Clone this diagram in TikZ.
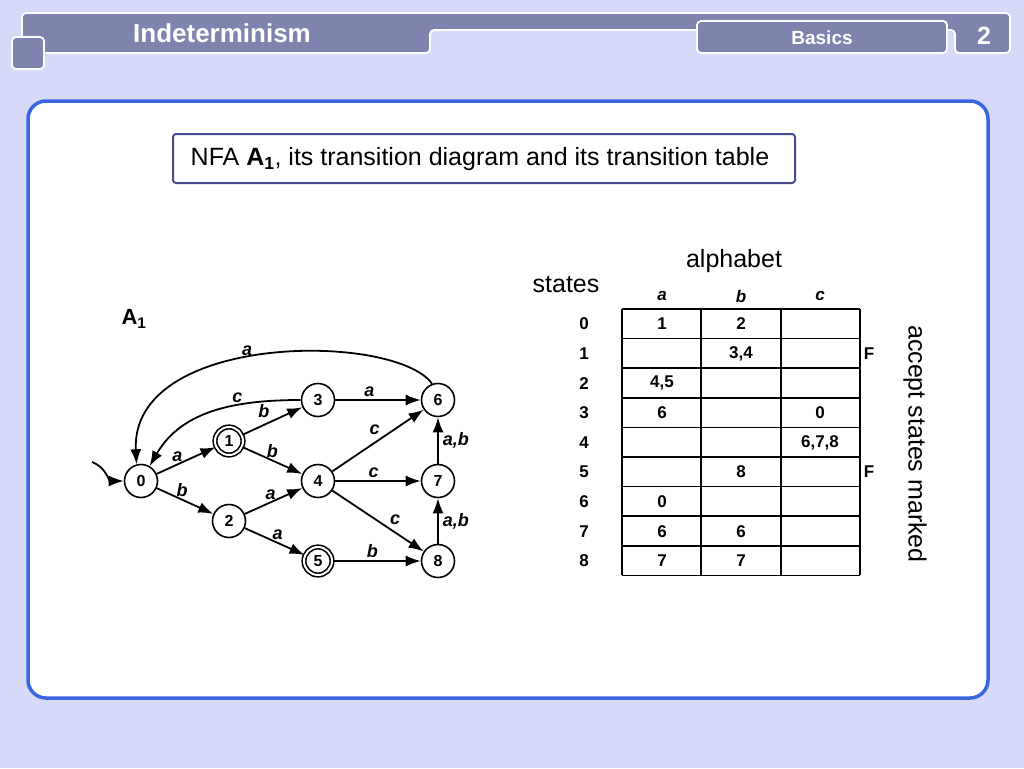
\documentclass[tikz,border=0pt]{standalone}
\usepackage{fontspec}
\setmainfont{Liberation Sans}
\usetikzlibrary{arrows.meta}
\definecolor{bgblue}{HTML}{D6D9F8}
\definecolor{barblue}{HTML}{7F84AE}
\definecolor{panelblue}{HTML}{3A66E0}
\definecolor{capblue}{HTML}{4A4A90}
\tikzset{
  state/.style={circle, draw, line width=1.6pt, minimum size=33pt, inner sep=0pt, font=\bfseries\fontsize{16}{16}\selectfont},
  accept/.style={state, double, double distance=2pt, minimum size=28pt},
  trans/.style={line width=1.8pt, -{Latex[length=15pt,width=11pt]}},
  lab/.style={font=\bfseries\itshape\fontsize{18}{18}\selectfont, inner sep=2pt},
  cell/.style={font=\bfseries\fontsize{17}{17}\selectfont},
  bar/.style={fill=barblue, draw=white, line width=1.8pt, rounded corners=4pt}
}
\begin{document}
\begin{tikzpicture}[x=1pt, y=-1pt]
	\useasboundingbox (0,0) rectangle (1024,768);
	\fill[bgblue] (0,0) rectangle (1024,768);
	% header
	\draw[bar] (22,13) -- (1010,13) -- (1010,53) -- (955,53) -- (955,30) -- (430,30) -- (430,53) -- (22,53) -- cycle;
	\draw[bar] (12,37) rectangle (44,69);
	\draw[bar] (697,21) rectangle (947,53);
	\node[text=white, font=\bfseries\fontsize{26}{26}\selectfont] (title) at (222,33) {Indeterminism};
	\node[text=white, font=\bfseries\fontsize{19}{19}\selectfont] (sect) at (822,38) {Basics};
	\node[text=white, font=\bfseries\fontsize{25}{25}\selectfont] (page) at (984,36) {2};
	% panel
	\draw[panelblue, fill=white, line width=3.5pt, rounded corners=18pt] (28,101) rectangle (988,698);
	\draw[capblue, fill=white, line width=2pt, rounded corners=3pt] (173,134) rectangle (795,183);
	\node[font=\fontsize{25}{25}\selectfont] (cap) at (480,159) {NFA \textbf{A}$_{\mathbf 1}$, its transition diagram and its transition table};
	% automaton
	\node[font=\bfseries\fontsize{22}{22}\selectfont] (name) at (134,319) {A$_{\mathbf 1}$};
	\node[state] (q0) at (141,481) {0};
	\node[accept] (q1) at (229,441) {1};
	\node[state] (q2) at (229,521) {2};
	\node[state] (q3) at (318,400) {3};
	\node[state] (q4) at (318,481) {4};
	\node[accept] (q5) at (318,561) {5};
	\node[state] (q6) at (438,400) {6};
	\node[state] (q7) at (438,481) {7};
	\node[state] (q8) at (438,561) {8};
	\coordinate (start) at (92,462);
	\draw[trans] (start) to[out=-20, in=180] (q0);
	\draw[trans] (q0) -- node[lab, pos=0.35, above] {a} (q1);
	\draw[trans] (q0) -- node[lab, pos=0.45, above] {b} (q2);
	\draw[trans] (q1) -- node[lab, pos=0.5, above left] {b} (q3);
	\draw[trans] (q1) -- node[lab, pos=0.5, above] {b} (q4);
	\draw[trans] (q2) -- node[lab, pos=0.45, above] {a} (q4);
	\draw[trans] (q2) -- node[lab, pos=0.55, above] {a} (q5);
	\draw[trans] (q3) -- node[lab, pos=0.4, above] {a} (q6);
	\draw[trans] (q4) -- node[lab, pos=0.55, above left] {c} (q6);
	\draw[trans] (q4) -- node[lab, pos=0.45, above] {c} (q7);
	\draw[trans] (q4) -- node[lab, pos=0.6, above right] {c} (q8);
	\draw[trans] (q5) -- node[lab, pos=0.45, above] {b} (q8);
	\draw[trans] (q7) -- node[lab, right=2pt] {a,b} (q6);
	\draw[trans] (q8) -- node[lab, right=2pt] {a,b} (q7);
	\draw[trans] (q3) to[out=180, in=60] node[lab, pos=0.35, above] {c} (q0);
	\draw[trans] (q6.110) .. controls (395,332) and (130,332) .. node[lab, pos=0.55, above] {a} (q0.105);
	% table
	\node[font=\fontsize{25}{25}\selectfont] (alph) at (734,261) {alphabet};
	\node[font=\fontsize{25}{25}\selectfont] (sts) at (566,285) {states};
	\node[font=\bfseries\itshape\fontsize{17}{17}\selectfont] (ca) at (662,296) {a};
	\node[font=\bfseries\itshape\fontsize{17}{17}\selectfont] (cb) at (741,296) {b};
	\node[font=\bfseries\itshape\fontsize{17}{17}\selectfont] (cc) at (820,296) {c};
	\foreach \r in {0,...,9}
		\draw[line width=1.5pt] (622,309+29.6*\r) -- (860,309+29.6*\r);
	\foreach \c in {622,701,781,860}
		\draw[line width=1.5pt] (\c,309) -- (\c,575.4);
	\foreach \s/\ea/\eb/\ec in {0/{1}/{2}/{}, 1/{}/{3,4}/{}, 2/{4,5}/{}/{}, 3/{6}/{}/{0}, 4/{}/{}/{6,7,8}, 5/{}/{8}/{}, 6/{0}/{}/{}, 7/{6}/{6}/{}, 8/{7}/{7}/{}}{
		\node[cell] at (584,324+29.6*\s) {\s};
		\node[cell] at (662,324+29.6*\s) {\ea};
		\node[cell] at (741,324+29.6*\s) {\eb};
		\node[cell] at (820,324+29.6*\s) {\ec};
	}
	\node[cell] (f1) at (869,354) {F};
	\node[cell] (f5) at (869,472) {F};
	\node[font=\fontsize{25}{25}\selectfont, rotate=-90] (acc) at (915,444) {accept states marked};
\end{tikzpicture}
\end{document}
